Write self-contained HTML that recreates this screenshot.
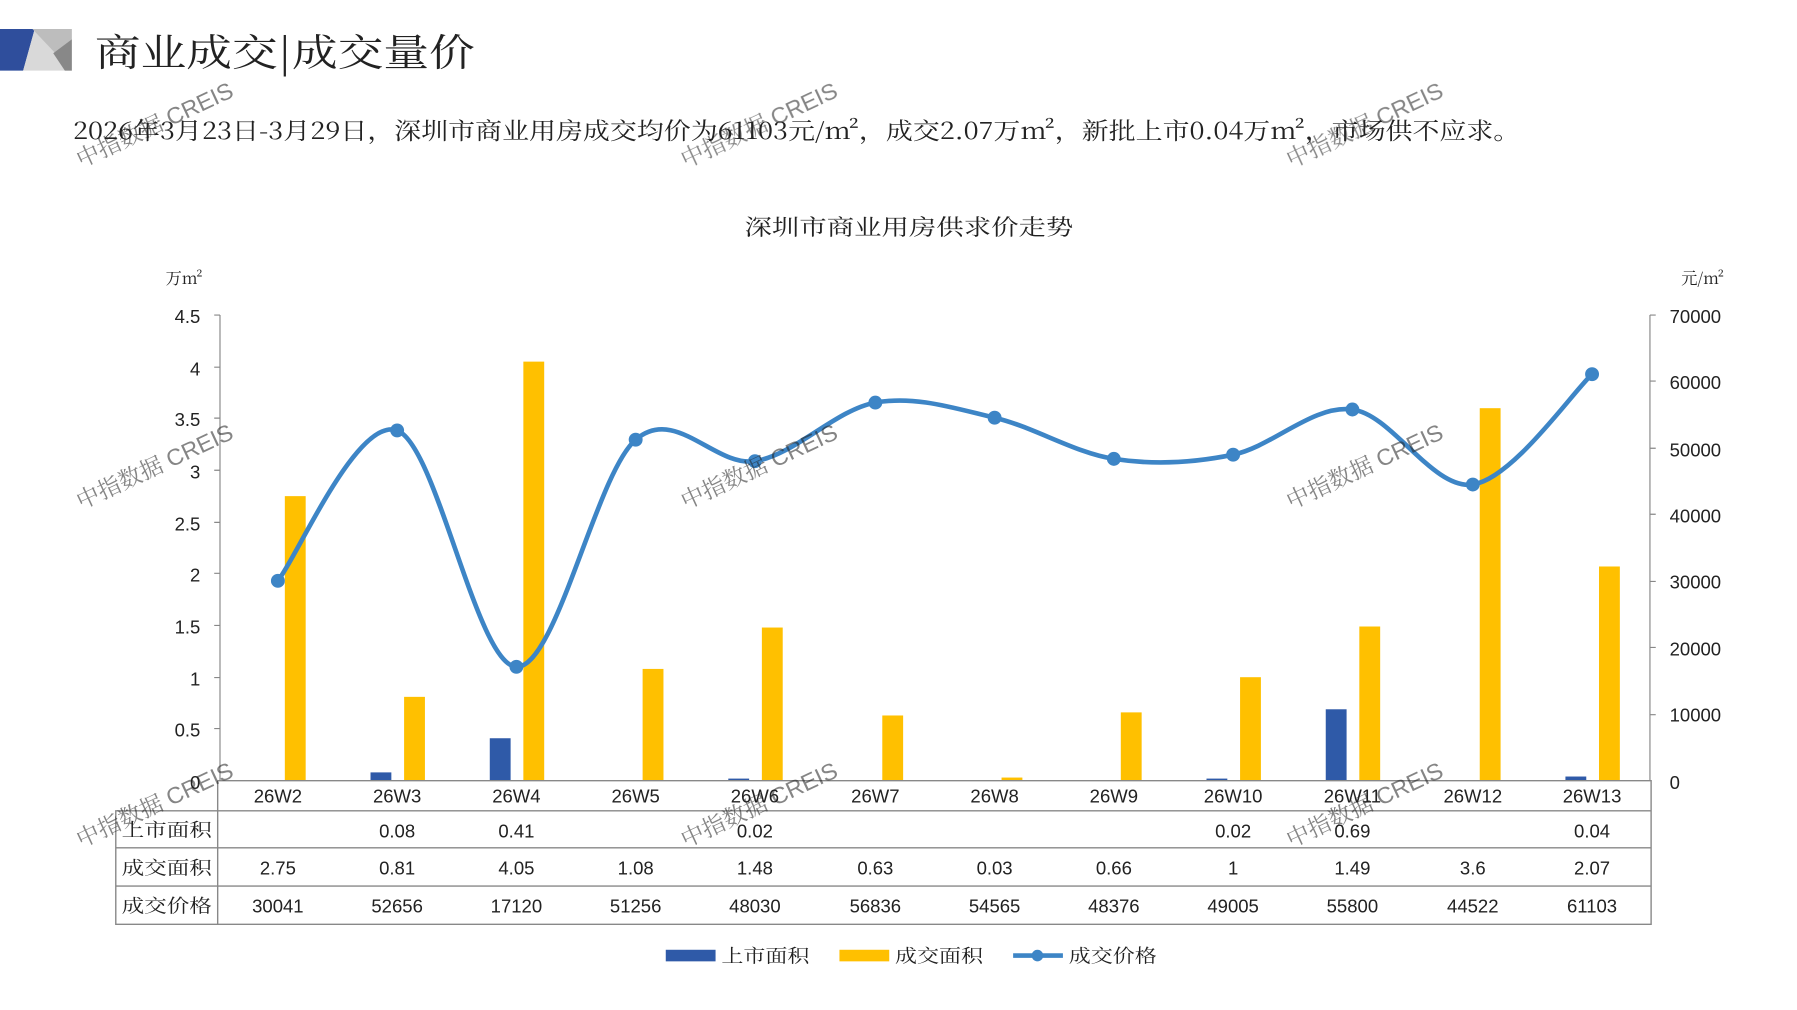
<!DOCTYPE html>
<html><head><meta charset="utf-8"><style>
html,body{margin:0;padding:0;background:#fff;overflow:hidden}
svg{display:block}
text{font-family:"Liberation Sans","Noto Serif CJK SC","Noto Sans CJK SC",sans-serif;fill:#222}
.cj{font-family:"Noto Serif CJK SC","Noto Sans CJK SC",serif}
.wm{fill:#c8c8c8;font-size:20px;opacity:.55}
</style></head><body>
<svg id="s" width="1797" height="1010" viewBox="0 0 1552 872" preserveAspectRatio="none" xmlns="http://www.w3.org/2000/svg">
<polygon points="0,25 30,25 20,61 0,61" fill="#2f4e9c"/>
<polygon points="30,25 62,25 62,61 20,61" fill="#d9d9d9"/>
<polygon points="28,25 62,25 62,61" fill="#bdbdbd"/>
<polygon points="46,46 62,34 62,61 56,61" fill="#888"/>
<text x="82" y="57" class="cj" font-size="33" textLength="328" lengthAdjust="spacingAndGlyphs">商业成交|成交量价</text>
<text x="63" y="120" font-size="20" class="cj" textLength="1250" lengthAdjust="spacingAndGlyphs">2026年3月23日-3月29日，深圳市商业用房成交均价为61103元/m²，成交2.07万m²，新批上市0.04万m²，市场供不应求。</text>
<text x="643" y="203" font-size="19" class="cj" textLength="284" lengthAdjust="spacingAndGlyphs">深圳市商业用房供求价走势</text>
<text x="143" y="245" font-size="14" class="cj">万m²</text>
<text x="1452" y="245" font-size="14" class="cj">元/m²</text>
<g font-size="16" text-anchor="end">
<text x="173" y="279">4.5</text><text x="173" y="324">4</text><text x="173" y="368">3.5</text><text x="173" y="413">3</text><text x="173" y="458">2.5</text><text x="173" y="502">2</text><text x="173" y="547">1.5</text><text x="173" y="592">1</text><text x="173" y="636">0.5</text><text x="173" y="681">0</text>
</g>
<g font-size="16">
<text x="1442" y="279">70000</text><text x="1442" y="336">60000</text><text x="1442" y="394">50000</text><text x="1442" y="451">40000</text><text x="1442" y="508">30000</text><text x="1442" y="566">20000</text><text x="1442" y="623">10000</text><text x="1442" y="681">0</text>
</g>
<g stroke="#888" stroke-width="1" fill="none">
<line x1="190" y1="272" x2="190" y2="674"/>
<line x1="1425" y1="272" x2="1425" y2="674"/>
<path d="M185 272H190M185 317H190M185 361H190M185 406H190M185 451H190M185 495H190M185 540H190M185 585H190M185 629H190M1425 272H1430M1425 329H1430M1425 387H1430M1425 444H1430M1425 502H1430M1425 559H1430M1425 617H1430"/>
</g>
<g id="bars"></g>
<path id="line" fill="none" stroke="#3d85c6" stroke-width="4"/>
<g id="dots" fill="#3d85c6"></g>
<g stroke="#888" stroke-width="1.2" fill="none" id="grid">
<path d="M188 674H1426V798H100V700H1426M100 732H1426M100 765H1426M188 674V798"/>
</g>
<g font-size="16" text-anchor="middle">
<text x="240" y="693">26W2</text><text x="343" y="693">26W3</text><text x="446" y="693">26W4</text><text x="549" y="693">26W5</text><text x="652" y="693">26W6</text><text x="756" y="693">26W7</text><text x="859" y="693">26W8</text><text x="962" y="693">26W9</text><text x="1065" y="693">26W10</text><text x="1168" y="693">26W11</text><text x="1272" y="693">26W12</text><text x="1375" y="693">26W13</text>
<text x="343" y="723">0.08</text><text x="446" y="723">0.41</text><text x="652" y="723">0.02</text><text x="1065" y="723">0.02</text><text x="1168" y="723">0.69</text><text x="1375" y="723">0.04</text>
<text x="240" y="755">2.75</text><text x="343" y="755">0.81</text><text x="446" y="755">4.05</text><text x="549" y="755">1.08</text><text x="652" y="755">1.48</text><text x="756" y="755">0.63</text><text x="859" y="755">0.03</text><text x="962" y="755">0.66</text><text x="1065" y="755">1</text><text x="1168" y="755">1.49</text><text x="1272" y="755">3.6</text><text x="1375" y="755">2.07</text>
<text x="240" y="788">30041</text><text x="343" y="788">52656</text><text x="446" y="788">17120</text><text x="549" y="788">51256</text><text x="652" y="788">48030</text><text x="756" y="788">56836</text><text x="859" y="788">54565</text><text x="962" y="788">48376</text><text x="1065" y="788">49005</text><text x="1168" y="788">55800</text><text x="1272" y="788">44522</text><text x="1375" y="788">61103</text>
</g>
<g font-size="16" class="cj">
<text x="105" y="722" textLength="78" lengthAdjust="spacingAndGlyphs">上市面积</text><text x="105" y="755" textLength="78" lengthAdjust="spacingAndGlyphs">成交面积</text><text x="105" y="788" textLength="78" lengthAdjust="spacingAndGlyphs">成交价格</text>
</g>
<rect x="575" y="820" width="43" height="10" fill="#2f5aa8"/>
<text x="623" y="831" font-size="16" class="cj" textLength="76" lengthAdjust="spacingAndGlyphs">上市面积</text>
<rect x="725" y="820" width="43" height="10" fill="#ffc000"/>
<text x="773" y="831" font-size="16" class="cj" textLength="76" lengthAdjust="spacingAndGlyphs">成交面积</text>
<line x1="875" y1="825" x2="918" y2="825" stroke="#3d85c6" stroke-width="4"/>
<circle cx="896" cy="825" r="5" fill="#3d85c6"/>
<text x="923" y="831" font-size="16" class="cj" textLength="76" lengthAdjust="spacingAndGlyphs">成交价格</text>
<g class="wm">
<text x="70" y="145" transform="rotate(-25 70 145)">中指数据 CREIS</text>
<text x="592" y="145" transform="rotate(-25 592 145)">中指数据 CREIS</text>
<text x="1115" y="145" transform="rotate(-25 1115 145)">中指数据 CREIS</text>
<text x="70" y="440" transform="rotate(-25 70 440)">中指数据 CREIS</text>
<text x="592" y="440" transform="rotate(-25 592 440)">中指数据 CREIS</text>
<text x="1115" y="440" transform="rotate(-25 1115 440)">中指数据 CREIS</text>
<text x="70" y="732" transform="rotate(-25 70 732)">中指数据 CREIS</text>
<text x="592" y="732" transform="rotate(-25 592 732)">中指数据 CREIS</text>
<text x="1115" y="732" transform="rotate(-25 1115 732)">中指数据 CREIS</text>
</g>
</svg>
<script>
var ns="http://www.w3.org/2000/svg";
var cx=[240,343,446,549,652,756,859,962,1065,1168,1272,1375];
var sup=[0,0.08,0.41,0,0.02,0,0,0,0.02,0.69,0,0.04];
var deal=[2.75,0.81,4.05,1.08,1.48,0.63,0.03,0.66,1,1.49,3.6,2.07];
var price=[30041,52656,17120,51256,48030,56836,54565,48376,49005,55800,44522,61103];
var g=document.getElementById('bars');
function r(x,y,w,h,c){var e=document.createElementNS(ns,'rect');e.setAttribute('x',x);e.setAttribute('y',y);e.setAttribute('width',w);e.setAttribute('height',h);e.setAttribute('fill',c);g.appendChild(e);}
for(var i=0;i<12;i++){
 var hb=sup[i]*89.33;if(hb>0)r(cx[i]-23,674-hb,18,hb,'#2f5aa8');
 var hy=deal[i]*89.33;r(cx[i]+6,674-hy,18,hy,'#ffc000');
}
var p=price.map(function(v,i){return [cx[i],674-v/70000*402];});
var d='M'+p[0][0]+' '+p[0][1];
for(var i=0;i<p.length-1;i++){
 var p0=p[i-1]||p[i],p1=p[i],p2=p[i+1],p3=p[i+2]||p2,t=6;
 d+='C'+(p1[0]+(p2[0]-p0[0])/t)+' '+(p1[1]+(p2[1]-p0[1])/t)+' '+(p2[0]-(p3[0]-p1[0])/t)+' '+(p2[1]-(p3[1]-p1[1])/t)+' '+p2[0]+' '+p2[1];
}
document.getElementById('line').setAttribute('d',d);
var dg=document.getElementById('dots');
p.forEach(function(q){var c=document.createElementNS(ns,'circle');c.setAttribute('cx',q[0]);c.setAttribute('cy',q[1]);c.setAttribute('r',6);dg.appendChild(c);});
</script>
</body></html>
